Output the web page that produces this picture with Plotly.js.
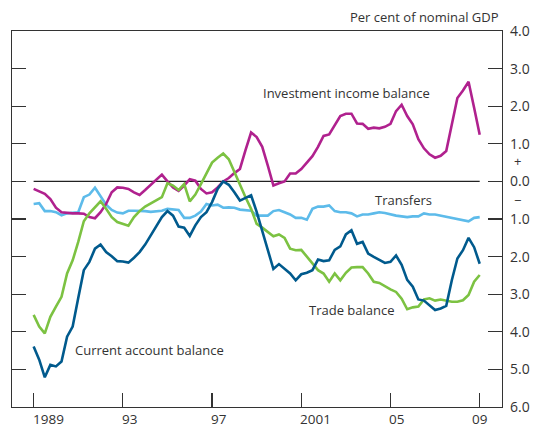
<!DOCTYPE html>
<html>
<head>
<meta charset="utf-8">
<script src="https://cdn.plot.ly/plotly-3.0.1.min.js"></script>
<style>html,body{margin:0;padding:0;background:#fff;}#chart{width:536px;height:428px;}</style>
</head>
<body>
<div id="chart"></div>
<script>
// Quarterly observations, 1989 Q1 to 2009 Q1
var startYear = 1989;
var nQuarters = 81;

var currentAccount = [
  -4.39, -4.74, -5.21, -4.88, -4.92, -4.79, -4.13, -3.86, -3.10, -2.36, -2.14, -1.79, -1.68, -1.88, -1.99, -2.12,
  -2.13, -2.16, -2.03, -1.88, -1.68, -1.44, -1.17, -0.95, -0.79, -0.91, -1.20, -1.23, -1.45, -1.17, -0.95, -0.82, -0.55, -0.20,
  0.00, -0.09, -0.29, -0.51, -0.44, -0.37, -0.81, -1.31, -1.82, -2.33, -2.20, -2.32, -2.45, -2.63, -2.47, -2.43, -2.36,
  -2.08, -2.12, -2.10, -1.82, -1.73, -1.41, -1.30, -1.66, -1.61, -1.92, -2.01, -2.10, -2.17, -2.14, -1.97, -2.22, -2.62,
  -2.80, -3.14, -3.17, -3.29, -3.42, -3.38, -3.31, -2.63, -2.05, -1.83, -1.50, -1.75, -2.19
];

var tradeBalance = [
  -3.55, -3.86, -4.04, -3.60, -3.33, -3.07, -2.45, -2.10, -1.61, -1.06, -0.85, -0.70, -0.53, -0.73, -0.95, -1.08,
  -1.13, -1.18, -0.95, -0.79, -0.67, -0.58, -0.49, -0.42, -0.05, -0.11, -0.23, -0.07, -0.53, -0.35, -0.07, 0.20, 0.50, 0.63,
  0.74, 0.59, 0.24, -0.07, -0.42, -0.73, -1.13, -1.23, -1.35, -1.46, -1.41, -1.50, -1.79, -1.83, -1.82, -2.01, -2.20,
  -2.36, -2.45, -2.67, -2.45, -2.63, -2.43, -2.29, -2.28, -2.28, -2.45, -2.67, -2.70, -2.79, -2.87, -2.94, -3.12, -3.40,
  -3.35, -3.33, -3.14, -3.11, -3.17, -3.14, -3.17, -3.20, -3.20, -3.16, -3.02, -2.67, -2.49
];

var investmentIncome = [
  -0.20, -0.26, -0.33, -0.47, -0.70, -0.82, -0.84, -0.85, -0.85, -0.86, -0.95, -0.98, -0.82, -0.60, -0.29, -0.16,
  -0.17, -0.20, -0.29, -0.36, -0.23, -0.09, 0.06, 0.18, 0.00, -0.16, -0.25, -0.11, 0.06, 0.02, -0.20, -0.32, -0.29, -0.16,
  0.00, 0.09, 0.22, 0.33, 0.83, 1.30, 1.18, 0.92, 0.42, -0.11, -0.05, 0.00, 0.21, 0.21, 0.33, 0.50, 0.67,
  0.92, 1.21, 1.25, 1.49, 1.74, 1.80, 1.80, 1.54, 1.53, 1.40, 1.43, 1.41, 1.45, 1.53, 1.87, 2.04, 1.74,
  1.52, 1.12, 0.88, 0.72, 0.63, 0.68, 0.81, 1.52, 2.22, 2.42, 2.65, 1.96, 1.24
];

var transfers = [
  -0.60, -0.58, -0.79, -0.79, -0.82, -0.90, -0.85, -0.84, -0.82, -0.42, -0.35, -0.17, -0.40, -0.62, -0.76, -0.83,
  -0.85, -0.78, -0.78, -0.78, -0.79, -0.81, -0.80, -0.78, -0.73, -0.75, -0.76, -0.97, -0.97, -0.91, -0.80, -0.60, -0.64, -0.62,
  -0.70, -0.69, -0.70, -0.75, -0.76, -0.78, -0.91, -0.91, -0.91, -0.79, -0.76, -0.82, -0.88, -0.97, -0.97, -1.02, -0.73,
  -0.67, -0.67, -0.64, -0.79, -0.82, -0.82, -0.85, -0.93, -0.88, -0.88, -0.85, -0.82, -0.84, -0.88, -0.91, -0.93, -0.95,
  -0.93, -0.93, -0.85, -0.88, -0.88, -0.91, -0.93, -0.97, -0.99, -1.02, -1.06, -0.97, -0.95
];

var xTickVals = [1989, 1993, 1997, 2001, 2005, 2009];
var xTickText = ['1989', '93', '97', '2001', '05', '09'];
var yTickVals = [-6, -5, -4, -3, -2, -1, 0, 1, 2, 3, 4];
var yTickText = ['6.0', '5.0', '4.0', '3.0', '2.0', '1.0', '0.0', '1.0', '2.0', '3.0', '4.0'];

var seriesNames = ['Investment income balance', 'Transfers', 'Trade balance', 'Current account balance'];

var quarters = [];
for (var i = 0; i < nQuarters; i++) quarters.push(startYear + i / 4);

var font = 'Open Sans, Noto Sans, DejaVu Sans, sans-serif';
var txt = '#333333';

function line(y, color, name) {
  return {x: quarters, y: y, type: 'scatter', mode: 'lines', name: name,
          line: {color: color, width: 2.6}, hoverinfo: 'skip'};
}

var data = [
  line(transfers, '#5DBBEA', seriesNames[1]),
  line(investmentIncome, '#B0218E', seriesNames[0]),
  line(tradeBalance, '#7CC242', seriesNames[2]),
  line(currentAccount, '#005A8D', seriesNames[3])
];

var annotations = [
  {text: 'Per cent of nominal GDP', xref: 'paper', yref: 'paper', x: 0.998, y: 1.037,
   xanchor: 'right', yanchor: 'middle', showarrow: false, font: {family: font, size: 13, color: txt}},
  {text: seriesNames[0], xref: 'x', yref: 'y', x: 2003.05, y: 2.35, showarrow: false,
   xanchor: 'center', yanchor: 'middle', font: {family: font, size: 13, color: txt}},
  {text: seriesNames[1], xref: 'x', yref: 'y', x: 2005.6, y: -0.49, showarrow: false,
   xanchor: 'center', yanchor: 'middle', font: {family: font, size: 13, color: txt}},
  {text: seriesNames[2], xref: 'x', yref: 'y', x: 2003.27, y: -3.42, showarrow: false,
   xanchor: 'center', yanchor: 'middle', font: {family: font, size: 13, color: txt}},
  {text: seriesNames[3], xref: 'x', yref: 'y', x: 1994.21, y: -4.48, showarrow: false,
   xanchor: 'center', yanchor: 'middle', font: {family: font, size: 13, color: txt}},
  {text: '+', xref: 'paper', yref: 'y', x: 1.031, y: 0.53, showarrow: false,
   xanchor: 'center', yanchor: 'middle', font: {family: font, size: 13, color: txt}},
  {text: '\u2212', xref: 'paper', yref: 'y', x: 1.031, y: -0.5, showarrow: false,
   xanchor: 'center', yanchor: 'middle', font: {family: font, size: 13, color: txt}}
];

// x tick labels start at their tick, the last one is centred on it
for (var k = 0; k < xTickVals.length; k++) {
  var last = (k === xTickVals.length - 1);
  annotations.push({text: xTickText[k], xref: 'x', yref: 'paper', x: xTickVals[k], y: -0.031,
    xanchor: last ? 'center' : 'left', yanchor: 'middle', xshift: last ? 0 : -3, showarrow: false,
    font: {family: font, size: 13.5, color: txt}});
}

var layout = {
  width: 536, height: 428,
  margin: {l: 12, r: 34, t: 31, b: 21},
  paper_bgcolor: '#ffffff', plot_bgcolor: '#ffffff',
  showlegend: false,
  font: {family: font, size: 13, color: txt},
  xaxis: {
    range: [1988.03, 2010.0], tickvals: xTickVals, ticktext: xTickText, showticklabels: false,
    ticks: 'inside', ticklen: 14, tickwidth: 1.2, tickcolor: '#333',
    showline: true, linecolor: '#333', linewidth: 1.2, mirror: true,
    showgrid: false, zeroline: false, fixedrange: true
  },
  yaxis: {
    range: [-6, 4], side: 'right', tickvals: yTickVals, ticktext: yTickText,
    ticks: 'inside', ticklen: 14, tickwidth: 1.2, tickcolor: '#333',
    showline: true, linecolor: '#333', linewidth: 1.2, mirror: 'ticks',
    showgrid: false, zeroline: false, fixedrange: true, ticklabelstandoff: 4,
    tickfont: {family: font, size: 14, color: txt}
  },
  shapes: [
    {type: 'line', xref: 'x', yref: 'y', x0: xTickVals[0], x1: xTickVals[xTickVals.length - 1], y0: 0, y1: 0,
     line: {color: '#222', width: 1.3}, layer: 'below'}
  ],
  annotations: annotations
};

Plotly.newPlot('chart', data, layout, {displayModeBar: false, staticPlot: true});
</script>
</body>
</html>
